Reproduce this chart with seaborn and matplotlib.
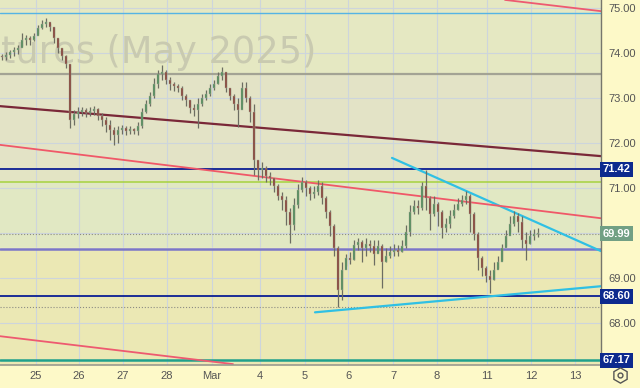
import numpy as np
import pandas as pd
import matplotlib
matplotlib.use("Agg")
import matplotlib.pyplot as plt
import seaborn as sns
from matplotlib.lines import Line2D
import matplotlib.transforms as mtrans

sns.set_style("white")
plt.rcParams['font.family'] = ['Liberation Sans', 'DejaVu Sans']

# ---------------- data ----------------
first_open = 73.93
closes = [73.91, 73.96, 74.02, 74.07, 74.11, 74.29, 74.33, 74.29, 74.38, 74.56,
          74.64, 74.69, 74.58, 74.33, 74.11, 73.93, 73.76, 72.51, 72.64, 72.69,
          72.73, 72.67, 72.71, 72.76, 72.60, 72.51, 72.40, 72.29, 72.18, 72.29,
          72.34, 72.27, 72.31, 72.27, 72.38, 72.69, 72.87, 73.04, 73.31, 73.53,
          73.58, 73.40, 73.31, 73.27, 73.22, 73.04, 72.96, 72.78, 72.73, 72.87,
          73.00, 73.09, 73.22, 73.31, 73.49, 73.58, 73.22, 73.04, 72.87, 72.73,
          73.22, 73.00, 72.69, 71.62, 71.40, 71.44, 71.27, 71.22, 71.04, 70.82,
          70.73, 70.47, 70.18, 70.62, 70.96, 71.13, 71.00, 70.87, 70.91, 71.04,
          70.78, 70.47, 70.16, 69.67, 68.73, 69.18, 69.44, 69.40, 69.73, 69.80,
          69.67, 69.76, 69.71, 69.53, 69.71, 69.36, 69.49, 69.58, 69.62, 69.58,
          69.71, 70.02, 70.47, 70.60, 70.56, 71.04, 70.78, 70.42, 70.64, 70.47,
          70.11, 70.20, 70.38, 70.51, 70.64, 70.73, 70.82, 70.42, 69.98, 69.44,
          69.22, 69.04, 68.96, 69.18, 69.36, 69.67, 69.93, 70.20, 70.38, 70.24,
          69.84, 69.76, 69.93, 69.98, 69.99]
highs = [73.98, 74.02, 74.07, 74.13, 74.18, 74.44, 74.40, 74.38, 74.44, 74.62,
         74.73, 74.78, 74.67, 74.58, 74.33, 74.11, 73.96, 73.76, 72.73, 72.80,
         72.80, 72.78, 72.80, 72.82, 72.78, 72.67, 72.58, 72.51, 72.36, 72.38,
         72.40, 72.38, 72.38, 72.34, 72.47, 72.78, 72.96, 73.13, 73.44, 73.62,
         73.73, 73.62, 73.47, 73.36, 73.31, 73.27, 73.09, 72.96, 72.87, 73.00,
         73.09, 73.18, 73.31, 73.40, 73.58, 73.69, 73.58, 73.22, 73.09, 73.00,
         73.36, 73.36, 73.04, 72.87, 71.62, 71.58, 71.49, 71.36, 71.22, 71.09,
         70.91, 70.82, 70.56, 70.78, 71.09, 71.24, 71.18, 71.04, 71.04, 71.18,
         71.13, 70.82, 70.51, 70.20, 69.71, 69.36, 69.53, 69.58, 69.84, 69.89,
         69.84, 69.89, 69.84, 69.84, 69.84, 69.76, 69.67, 69.71, 69.76, 69.73,
         69.84, 70.18, 70.62, 70.73, 70.73, 71.13, 71.40, 70.82, 70.82, 70.69,
         70.51, 70.33, 70.51, 70.64, 70.78, 70.84, 70.93, 70.87, 70.47, 70.02,
         69.49, 69.27, 69.18, 69.36, 69.49, 69.76, 70.07, 70.38, 70.49, 70.44,
         70.38, 70.02, 70.07, 70.09, 70.11]
lows = [73.84, 73.84, 73.89, 73.93, 73.98, 74.16, 74.18, 74.18, 74.27, 74.42,
        74.53, 74.58, 74.49, 74.22, 74.00, 73.84, 73.67, 72.34, 72.40, 72.56,
        72.60, 72.58, 72.60, 72.62, 72.51, 72.38, 72.24, 72.07, 71.96, 72.00,
        72.20, 72.18, 72.20, 72.20, 72.18, 72.34, 72.67, 72.82, 73.00, 73.22,
        73.40, 73.31, 73.18, 73.16, 73.13, 72.96, 72.82, 72.67, 72.60, 72.34,
        72.82, 72.96, 73.04, 73.18, 73.31, 73.40, 73.13, 72.96, 72.73, 72.36,
        72.87, 72.91, 72.47, 71.29, 71.18, 71.22, 71.13, 71.07, 70.91, 70.73,
        70.51, 70.18, 69.78, 70.07, 70.56, 70.91, 70.82, 70.73, 70.78, 70.84,
        70.64, 70.33, 69.93, 69.49, 68.36, 68.51, 69.27, 69.31, 69.40, 69.62,
        69.36, 69.49, 69.58, 69.29, 69.58, 68.78, 69.36, 69.44, 69.49, 69.49,
        69.58, 69.67, 69.93, 70.42, 70.42, 70.51, 70.51, 70.07, 70.38, 70.16,
        69.89, 70.02, 70.11, 70.33, 70.51, 70.60, 70.64, 70.02, 69.84, 69.18,
        69.04, 68.91, 68.67, 68.96, 69.22, 69.40, 69.71, 70.02, 70.16, 70.02,
        69.67, 69.40, 69.76, 69.84, 69.91]

tick_pos = [8.5, 19.25, 30.25, 41.25, 52.5, 64.5, 75.75, 86.5, 97.75, 108.75, 121.25, 132.25, 143.25]
tick_labels = ['25', '26', '27', '28', 'Mar', '4', '5', '6', '7', '8', '11', '12', '13']
grid_prices = [67, 68, 69, 70, 71, 72, 73, 74, 75]
label_prices = [68, 69, 71, 72, 73, 74, 75]
watermark = 'tures (May 2025)'

# horizontal levels: (price, color, width, style)
levels = [
    (74.90, '#55b4e4', 1.0, '-'),
    (73.53, '#a3a394', 1.6, '-'),
    (71.42, '#1b2c96', 1.4, '-'),
    (71.13, '#a6d23e', 1.1, '-'),
    (69.64, '#7a76c8', 1.8, '-'),
    (69.99, '#8c8c84', 0.8, ':'),
    (68.60, '#1b2c96', 1.4, '-'),
    (68.36, '#8c8c84', 0.8, ':'),
    (67.19, '#1fa08c', 1.8, '-'),
]
# trend lines: name -> ([x0, x1], [p0, p1])
trend_x = {'red_top': [125.75, 149.75], 'maroon': [-0.5, 149.75], 'red_mid': [-0.5, 149.75],
           'cyan_down': [97.5, 149.75], 'cyan_up': [78.25, 149.75], 'red_low': [-0.5, 57.75]}
trend_p = {'red_top': [75.18, 74.93], 'maroon': [72.82, 71.71], 'red_mid': [71.96, 70.33],
           'cyan_down': [71.67, 69.60], 'cyan_up': [68.24, 68.82], 'red_low': [67.71, 67.09]}
trend_col = {'red_top': '#ee5a70', 'maroon': '#7a2838', 'red_mid': '#f05868',
             'cyan_down': '#2fc0e4', 'cyan_up': '#2fc0e4', 'red_low': '#ee5a70'}
trend_lw = {'red_top': 1.3, 'maroon': 1.6, 'red_mid': 1.3, 'cyan_down': 1.6, 'cyan_up': 1.6, 'red_low': 1.3}

badges = [(71.42, '#0d2a8e'), (69.99, '#72a084'), (68.60, '#0d2a8e'), (67.17, '#0d2a8e')]

# bands (bottom, top, color)
bands = [(73.53, 75.4, '#e5e8c2'), (71.42, 73.53, '#e3e3c6'), (71.13, 71.42, '#e3e4c4'),
         (69.64, 71.13, '#e1e8c3'), (66.5, 69.64, '#ebe8b4')]

# ---------------- figure ----------------
W, H = 640, 388
fig = plt.figure(figsize=(6.4, 3.88), dpi=100)
fig.patch.set_facecolor('#fdf9c8')
ax = fig.add_axes([0, 23 / H, 601 / W, 365 / H])
ax.set_facecolor('#e5e8c2')

n = len(closes)
x = np.arange(n)
opens = [first_open] + closes[:-1]
df = pd.DataFrame({'x': x, 'open': opens, 'close': closes, 'high': highs, 'low': lows})
df['up'] = df['close'] >= df['open']

ax.set_xlim(-0.5, 149.75)
ax.set_ylim(67.07, 75.178)

for b0, b1, c in bands:
    ax.axhspan(b0, b1, color=c, zorder=0, lw=0)

# grid
for t in tick_pos:
    ax.axvline(t, color='#cdd5dc', lw=0.8, zorder=0.5)
for p in grid_prices:
    ax.axhline(p, color='#cdd5dc', lw=0.8, zorder=0.5)

# watermark
ax.text(-0.2, 73.78, watermark, ha='left', va='baseline',
        fontsize=26.5, family='DejaVu Sans', color='#c9cab0', zorder=0.8)

# levels
for p, c, lw, ls in levels:
    if p == 69.64:
        ax.axhline(p + 0.02, color='#f4f2d0', lw=1.0, zorder=1)
    ax.axhline(p, color=c, lw=lw, ls=ls, zorder=1.1)

# trend lines via seaborn
rows = []
for k in trend_x:
    for xx, pp in zip(trend_x[k], trend_p[k]):
        rows.append({'x': xx, 'price': pp, 'line': k})
tl = pd.DataFrame(rows)
for k, g in tl.groupby('line'):
    sns.lineplot(data=g, x='x', y='price', color=trend_col[k], lw=trend_lw[k], ax=ax,
                 zorder=1.2, legend=False)

# candles
up_c, dn_c = '#4f8a5a', '#853f36'
cols = np.where(df['up'], up_c, dn_c)
ax.vlines(df['x'], df['low'], df['high'], color='#6c6d62', lw=0.9, zorder=2)
body_h = (df['close'] - df['open']).abs().clip(lower=0.025)
body_b = df[['open', 'close']].min(axis=1)
ax.bar(df['x'], body_h, bottom=body_b, width=0.68, color=cols, edgecolor='#a9ab98',
       linewidth=0.3, zorder=3)

ax.set_xlabel('')
ax.set_ylabel('')

# axes styling
for s in ['top', 'left']:
    ax.spines[s].set_visible(False)
ax.spines['right'].set_color('#76766c')
ax.spines['right'].set_linewidth(1.0)
ax.spines['bottom'].set_color('#9a9a8e')
ax.spines['bottom'].set_linewidth(1.2)

ax.yaxis.tick_right()
ax.set_yticks(label_prices)
ax.set_yticklabels([f'{p:.2f}' for p in label_prices], fontsize=8, color='#555555')
ax.set_xticks(tick_pos)
ax.set_xticklabels(tick_labels, fontsize=8, color='#555555')
ax.tick_params(axis='both', length=0)
ax.tick_params(axis='y', pad=5)
ax.tick_params(axis='x', pad=4)

# badges
tr = mtrans.blended_transform_factory(ax.transAxes, ax.transData)
for p, c in badges:
    ax.text(1.003, p, f'{p:.2f}', transform=tr, ha='left', va='center', fontsize=8,
            fontweight='bold', color='white', clip_on=False, zorder=10,
            bbox=dict(boxstyle='square,pad=0.22', fc=c, ec='none'))

# gear icon
fig.add_artist(Line2D([620 / W], [1 - 375 / H], marker='h', ms=11, mfc='none', mec='#555555',
                      mew=1.0, transform=fig.transFigure))
fig.add_artist(Line2D([620 / W], [1 - 375 / H], marker='o', ms=3.5, mfc='none', mec='#555555',
                      mew=1.0, transform=fig.transFigure))

fig.savefig('out.png', dpi=100, facecolor=fig.get_facecolor())
